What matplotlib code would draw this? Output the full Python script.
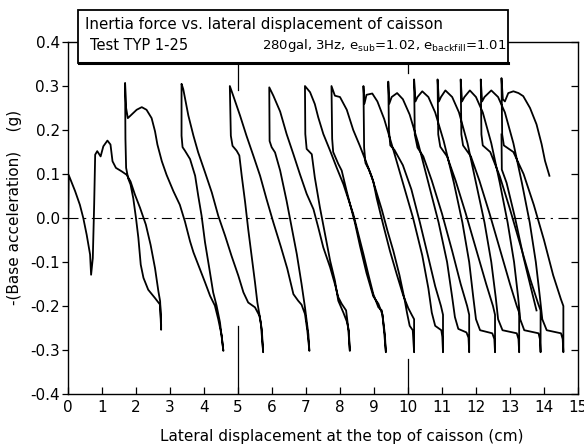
import matplotlib
matplotlib.use("Agg")
import matplotlib.pyplot as plt
from matplotlib.patches import Rectangle

# inertia force vs. lateral displacement
# one continuous trace: peak -> outer branch -> bottom -> inner branch -> next peak
disp_cm = [
    # start -> first bottom
    0.0, 0.02, 0.21, 0.35, 0.45, 0.55, 0.65, 0.68, 0.73, 0.77, 0.80, 0.86, 0.96, 1.04, 1.16, 1.25,
    1.31, 1.41, 1.58, 1.73, 1.84, 1.97, 2.12, 2.29, 2.43, 2.56, 2.66, 2.71, 2.74, 2.74,
    # inner 1
    2.71, 2.56, 2.36, 2.22, 2.14, 2.07, 2.0, 1.92, 1.84, 1.77, 1.71, 1.69, 1.68,
    # outer 1
    1.71, 1.76, 1.87, 2.02, 2.17, 2.31, 2.46, 2.56, 2.63, 2.76, 2.9, 3.1, 3.29, 3.44, 3.59, 3.69,
    3.88, 4.03, 4.18, 4.32, 4.42, 4.52, 4.57,
    # inner 2
    4.47, 4.37, 4.27, 4.16, 4.03, 3.93, 3.83, 3.74, 3.59, 3.44, 3.37, 3.34, 3.34,
    # outer 2
    3.39, 3.54, 3.69, 3.83, 4.03, 4.23, 4.42, 4.62, 4.81, 5.01, 5.16, 5.3, 5.5, 5.63, 5.7, 5.74,
    # inner 3
    5.67, 5.57, 5.5, 5.4, 5.3, 5.21, 5.11, 5.04, 4.96, 4.84, 4.79, 4.76,
    # outer 3
    4.86, 5.06, 5.25, 5.45, 5.65, 5.84, 6.04, 6.26, 6.45, 6.63, 6.77, 6.87, 6.97, 7.04, 7.1,
    # inner 4
    7.07, 6.97, 6.87, 6.73, 6.58, 6.43, 6.24, 6.09, 5.99, 5.93, 5.92,
    # outer 4
    6.04, 6.24, 6.43, 6.63, 6.82, 7.02, 7.22, 7.36, 7.51, 7.71, 7.85, 7.95, 8.05, 8.18, 8.24, 8.29,
    # inner 5
    8.26, 8.2, 8.1, 7.95, 7.85, 7.71, 7.56, 7.41, 7.26, 7.17, 7.02, 6.98, 6.97,
    # outer 5
    7.12, 7.26, 7.36, 7.51, 7.71, 7.9, 8.1, 8.29, 8.39, 8.54, 8.69, 8.83, 8.98, 9.13, 9.23, 9.27,
    9.32, 9.35,
    # inner 6
    9.3, 9.25, 9.13, 8.98, 8.78, 8.59, 8.44, 8.34, 8.2, 8.05, 7.95, 7.8, 7.77, 7.75,
    # outer 6
    7.85, 8.0, 8.2, 8.39, 8.59, 8.78, 8.93, 9.08, 9.23, 9.4, 9.57, 9.75, 9.9, 9.97, 10.05, 10.14,
    10.18,
    # inner 7
    10.18, 10.11, 10.01, 9.86, 9.67, 9.47, 9.27, 9.08, 8.98, 8.85, 8.75, 8.71, 8.69,
    # outer 7
    8.72, 8.78, 8.95, 9.1, 9.3, 9.55, 9.85, 10.15, 10.42, 10.6, 10.7, 10.8, 10.98, 11.01, 11.03,
    # inner 8
    11.03, 10.97, 10.8, 10.6, 10.35, 10.1, 9.85, 9.6, 9.48, 9.44, 9.42,
    # outer 8
    9.45, 9.52, 9.68, 9.85, 10.05, 10.3, 10.6, 10.9, 11.15, 11.3, 11.38, 11.48, 11.72, 11.78, 11.8,
    # inner 9
    11.8, 11.74, 11.55, 11.3, 11.0, 10.7, 10.45, 10.28, 10.2, 10.18,
    # outer 9
    10.22, 10.28, 10.42, 10.6, 10.8, 11.05, 11.35, 11.6, 11.8, 11.92, 12.0, 12.12, 12.48, 12.54, 12.56,
    # inner 10
    12.56, 12.5, 12.3, 12.0, 11.7, 11.4, 11.15, 10.95, 10.89, 10.87,
    # outer 10
    10.91, 10.97, 11.1, 11.3, 11.5, 11.75, 12.0, 12.25, 12.45, 12.58, 12.65, 12.78, 13.2, 13.25, 13.27,
    # inner 11
    13.27, 13.2, 13.0, 12.7, 12.4, 12.1, 11.85, 11.62, 11.57, 11.55,
    # outer 11
    11.59, 11.66, 11.82, 12.0, 12.2, 12.45, 12.7, 12.93, 13.12, 13.24, 13.3, 13.42, 13.84, 13.88, 13.9,
    # inner 12
    13.9, 13.83, 13.6, 13.3, 13.0, 12.7, 12.42, 12.2, 12.16, 12.14,
    # outer 12
    12.18, 12.25, 12.45, 12.65, 12.85, 13.1, 13.35, 13.58, 13.76, 13.88, 13.95, 14.08, 14.5, 14.55, 14.57,
    # inner 13
    14.57, 14.5, 14.27, 14.0, 13.7, 13.4, 13.1, 12.82, 12.77, 12.75,
    # last half cycle
    12.79, 12.85, 12.95, 13.1, 13.25, 13.39, 13.59, 13.78, 13.93, 14.03, 14.16,
]
accel_g = [
    # start -> first bottom
    -0.06, 0.098, 0.061, 0.03, 0.0, -0.038, -0.083, -0.129, -0.091, 0.03, 0.144, 0.152, 0.14, 0.163,
    0.176, 0.167, 0.129, 0.114, 0.106, 0.098, 0.083, 0.053, 0.023, -0.015, -0.061, -0.114, -0.167,
    -0.189, -0.242, -0.254,
    # inner 1
    -0.197, -0.182, -0.163, -0.136, -0.106, -0.045, 0.0, 0.045, 0.076, 0.09, 0.114, 0.18, 0.307,
    # outer 1
    0.25, 0.227, 0.235, 0.246, 0.252, 0.246, 0.227, 0.197, 0.167, 0.129, 0.098, 0.061, 0.03, -0.008,
    -0.053, -0.078, -0.116, -0.146, -0.177, -0.199, -0.23, -0.267, -0.302,
    # inner 2
    -0.237, -0.199, -0.169, -0.116, -0.055, 0.005, 0.051, 0.096, 0.134, 0.153, 0.161, 0.187, 0.305,
    # outer 2
    0.293, 0.233, 0.187, 0.149, 0.104, 0.058, 0.005, -0.04, -0.086, -0.131, -0.169, -0.192, -0.203,
    -0.222, -0.252, -0.305,
    # inner 3
    -0.237, -0.192, -0.146, -0.086, -0.025, 0.036, 0.096, 0.142, 0.153, 0.164, 0.187, 0.30,
    # outer 3
    0.278, 0.233, 0.187, 0.142, 0.096, 0.043, -0.01, -0.065, -0.115, -0.173, -0.188, -0.197, -0.218,
    -0.256, -0.302,
    # inner 4
    -0.264, -0.203, -0.15, -0.082, -0.021, 0.039, 0.108, 0.149, 0.161, 0.175, 0.297,
    # outer 4
    0.278, 0.242, 0.191, 0.145, 0.1, 0.055, 0.02, -0.021, -0.067, -0.112, -0.15, -0.18, -0.195,
    -0.21, -0.248, -0.302,
    # inner 5
    -0.256, -0.235, -0.215, -0.188, -0.142, -0.097, -0.036, 0.024, 0.092, 0.145, 0.157, 0.191, 0.30,
    # outer 5
    0.286, 0.259, 0.229, 0.191, 0.153, 0.115, 0.077, 0.032, 0.009, -0.036, -0.082, -0.127, -0.173,
    -0.203, -0.21, -0.233, -0.264, -0.305,
    # inner 6
    -0.26, -0.22, -0.195, -0.178, -0.125, -0.064, -0.011, 0.019, 0.06, 0.108, 0.123, 0.15, 0.18, 0.30,
    # outer 6
    0.278, 0.275, 0.246, 0.2, 0.163, 0.125, 0.095, 0.057, 0.019, -0.03, -0.075, -0.13, -0.185,
    -0.215, -0.245, -0.255, -0.305,
    # inner 7
    -0.23, -0.22, -0.205, -0.176, -0.128, -0.075, -0.015, 0.045, 0.083, 0.11, 0.125, 0.16, 0.30,
    # outer 7
    0.26, 0.28, 0.283, 0.265, 0.225, 0.16, 0.08, 0.0, -0.085, -0.16, -0.215, -0.245, -0.255, -0.27,
    -0.305,
    # inner 8
    -0.22, -0.2, -0.155, -0.09, -0.01, 0.065, 0.12, 0.155, 0.165, 0.2, 0.31,
    # outer 8
    0.26, 0.275, 0.284, 0.27, 0.235, 0.17, 0.08, -0.01, -0.1, -0.18, -0.225, -0.252, -0.26, -0.272,
    -0.305,
    # inner 9
    -0.22, -0.2, -0.15, -0.075, 0.01, 0.085, 0.14, 0.16, 0.19, 0.315,
    # outer 9
    0.265, 0.275, 0.288, 0.275, 0.24, 0.175, 0.08, -0.01, -0.1, -0.18, -0.23, -0.255, -0.262, -0.275,
    -0.305,
    # inner 10
    -0.22, -0.2, -0.15, -0.07, 0.01, 0.085, 0.14, 0.162, 0.19, 0.315,
    # outer 10
    0.265, 0.275, 0.29, 0.275, 0.24, 0.17, 0.08, -0.01, -0.1, -0.18, -0.23, -0.255, -0.262, -0.275,
    -0.305,
    # inner 11
    -0.215, -0.2, -0.15, -0.07, 0.01, 0.085, 0.14, 0.165, 0.19, 0.315,
    # outer 11
    0.265, 0.275, 0.29, 0.275, 0.24, 0.17, 0.08, -0.01, -0.1, -0.18, -0.23, -0.255, -0.262, -0.275,
    -0.305,
    # inner 12
    -0.21, -0.195, -0.14, -0.06, 0.02, 0.095, 0.15, 0.165, 0.19, 0.315,
    # outer 12
    0.265, 0.275, 0.29, 0.275, 0.24, 0.17, 0.08, -0.01, -0.1, -0.18, -0.23, -0.255, -0.262, -0.275,
    -0.305,
    # inner 13
    -0.2, -0.185, -0.13, -0.05, 0.03, 0.1, 0.15, 0.165, 0.19, 0.318,
    # last half cycle
    0.27, 0.265, 0.284, 0.288, 0.284, 0.277, 0.25, 0.213, 0.168, 0.13, 0.096,
]

# short loose branch below the last peak
branch_disp_cm = [12.75, 12.76, 12.9, 13.15, 13.4, 13.62, 13.78]
branch_accel_g = [0.19, 0.11, 0.08, 0.0, -0.09, -0.16, -0.21]

x_ticks = list(range(0, 16))
y_ticks = [-0.4, -0.3, -0.2, -0.1, 0.0, 0.1, 0.2, 0.3, 0.4]
y_tick_labels = ['-0.4', '-0.3', '-0.2', '-0.1', '0.0', '0.1', '0.2', '0.3', '0.4']
long_tick_x = [5, 10]

title_line1 = 'Inertia force vs. lateral displacement of caisson'
title_test = 'Test TYP 1-25'
title_cond = r'280gal, 3Hz, e$_{\rm sub}$=1.02, e$_{\rm backfill}$=1.01'

fig = plt.figure(figsize=(5.84, 4.48), dpi=100)
ax = fig.add_axes([0.1164, 0.1205, 0.8733, 0.7857])

ax.plot(disp_cm, accel_g, color='black', lw=1.3, solid_joinstyle='round')
ax.plot(branch_disp_cm, branch_accel_g, color='black', lw=1.3, solid_joinstyle='round')
ax.axhline(0.0, color='black', lw=0.8, ls=(0, (9, 5, 2, 5)))

# long marks at 5 and 10 cm on top and bottom edges
ax.axvline(long_tick_x[0], ymin=0.0, ymax=0.194, color='black', lw=0.9)
ax.axvline(long_tick_x[1], ymin=0.0, ymax=0.10, color='black', lw=0.9)
ax.axvline(long_tick_x[0], ymin=0.8625, ymax=1.0, color='black', lw=0.9)
ax.axvline(long_tick_x[1], ymin=0.9125, ymax=1.0, color='black', lw=0.9)

ax.set_xlim(0, 15)
ax.set_ylim(-0.4, 0.4)
ax.set_xticks(x_ticks)
ax.set_xticklabels([str(t) for t in x_ticks])
ax.set_yticks(y_ticks)
ax.set_yticklabels(y_tick_labels)

ax.tick_params(axis='x', direction='in', length=5, width=0.9, labelsize=11, pad=4, top=False)
ax.tick_params(axis='y', direction='out', length=4, width=0.9, labelsize=11, pad=2,
               right=True, labelright=False)
for t in ax.yaxis.get_major_ticks():
    t.tick2line.set_marker(matplotlib.lines.TICKLEFT)
    t.tick2line.set_markersize(5)

for sp in ax.spines.values():
    sp.set_linewidth(1.0)

ax.set_xlabel('Lateral displacement at the top of caisson (cm)', fontsize=11)
ax.xaxis.set_label_coords(0.537, -0.10)
ax.set_ylabel('-(Base acceleration)    (g)', fontsize=11)
ax.yaxis.set_label_coords(-0.09, 0.53)

# title box over the top edge of the axes
box = Rectangle((78 / 584, 1 - 63 / 448), (508 - 78) / 584, (63 - 10) / 448,
                transform=fig.transFigure, facecolor='white', edgecolor='black', lw=1.3,
                zorder=5)
fig.patches.append(box)
fig.add_artist(plt.Line2D([79 / 584, 508 / 584], [1 - 63.5 / 448, 1 - 63.5 / 448],
                          transform=fig.transFigure, color='black', lw=2.2, zorder=6))
fig.text(85 / 584, 1 - 24 / 448, title_line1, fontsize=10.8, va='center', ha='left', zorder=6)
fig.text(90 / 584, 1 - 46 / 448, title_test, fontsize=10.5, va='center', ha='left', zorder=6)
fig.text(262 / 584, 1 - 46 / 448, title_cond, fontsize=9.5, va='center', ha='left', zorder=6)

fig.savefig('out.png', dpi=100)
